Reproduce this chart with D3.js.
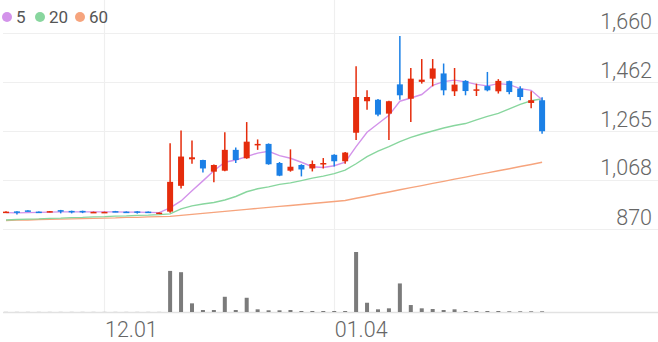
<!DOCTYPE html>
<html>
<head>
<meta charset="utf-8">
<script src="https://cdn.jsdelivr.net/npm/d3@7"></script>
<style>
  html, body { margin: 0; padding: 0; background: #fff; }
  #chart { width: 658px; height: 342px; }
  text { font-family: Roboto, 'Noto Sans', sans-serif; }
</style>
</head>
<body>
<div id="chart"></div>
<script>
//Datos del gráfico
const opens  = [936,941,945,940,940,946,943,943,937,936,942,940,941,940,934,940,1044,1151,1148,1101,1105,1189,1155,1208,1213,1136,1105,1128,1114,1131,1169,1143,1258,1385,1391,1335,1453,1395,1463,1476,1497,1425,1467,1428,1446,1425,1466,1436,1378,1389];
const highs  = [942,942,946,941,943,947,944,944,940,940,943,941,942,941,937,1216,1267,1227,1149,1130,1260,1198,1301,1231,1215,1140,1191,1131,1146,1156,1171,1180,1526,1429,1394,1387,1648,1519,1555,1555,1537,1519,1470,1456,1503,1474,1468,1445,1425,1401];
const lows   = [934,928,941,939,938,933,933,934,936,935,938,935,932,935,932,935,1033,1133,1098,1058,1103,1136,1153,1189,1129,1083,1101,1082,1102,1114,1122,1133,1229,1351,1324,1229,1391,1301,1456,1445,1409,1406,1409,1406,1425,1416,1413,1389,1357,1254];
const closes = [940,938,942,939,942,941,939,940,939,939,939,937,937,937,936,1060,1162,1159,1114,1128,1189,1148,1222,1213,1131,1085,1121,1110,1132,1136,1143,1178,1402,1402,1331,1385,1409,1476,1472,1517,1429,1452,1426,1433,1429,1467,1422,1402,1389,1264];
const volumes = [10,10,10,10,10,10,10,10,10,10,10,10,10,10,10,4130,4000,870,200,200,1530,200,1430,270,170,170,200,100,100,100,100,100,6030,930,270,370,2870,700,370,300,200,270,100,100,100,100,70,70,70,70];

const ma5  = [936,935,936,937,938,939,939,939,939,939,939,938,938,937,936,955,983,1024,1064,1105,1139,1148,1162,1176,1183,1166,1155,1139,1121,1118,1125,1139,1202,1260,1294,1328,1385,1398,1412,1449,1464,1470,1463,1453,1447,1456,1452,1436,1429,1391];
const ma20 = [906,908,910,911,913,914,916,917,919,920,922,923,925,926,928,931,951,963,971,977,987,1001,1020,1032,1040,1050,1056,1065,1075,1083,1093,1107,1133,1162,1184,1202,1222,1239,1253,1265,1277,1287,1295,1310,1324,1336,1354,1372,1387,1395];
const ma60 = [904,906,906,908,909,910,911,912,913,914,915,917,917,919,920,921,925,929,933,937,941,945,949,953,957,961,965,969,973,977,981,985,994,1002,1011,1019,1028,1037,1045,1054,1062,1071,1079,1088,1096,1105,1113,1122,1130,1139];

const yTicks = [870, 1068, 1265, 1462, 1660];
const xTickIdx = [9, 30];
const xTickLabels = ['12.01', '01.04'];
const legendLabels = ['5', '20', '60'];

//Colores fijos
const COLOR_UP = '#e52c0c',
COLOR_DOWN = '#1b80e6',
COLOR_MA = ['#d393ea', '#88d69e', '#f6a47d'],
COLOR_GRID = '#efefef',
COLOR_TEXT = '#666',
COLOR_VOL = '#7b7b7b';

const width = 658, height = 342;
const svg = d3.select('#chart').append('svg')
    .attr('width', width)
    .attr('height', height);

//Escalas
const nSlots = 60;
let x = d3.scaleLinear().domain([0, nSlots - 1]).range([6, 651.5]);
let y = d3.scaleLinear().domain([870, 1660]).range([229, 33]);
let yV = d3.scaleLinear().domain([0, d3.max(volumes)]).range([312, 252]);

//Rejilla
svg.append('g').selectAll('line')
    .data(yTicks)
    .enter()
    .append('line')
    .attr('x1', 3).attr('x2', width)
    .attr('y1', function(d) { return Math.round(y(d)) + 0.5; })
    .attr('y2', function(d) { return Math.round(y(d)) + 0.5; })
    .attr('stroke', COLOR_GRID)
    .attr('stroke-width', 1.2);

svg.append('g').selectAll('line')
    .data(xTickIdx)
    .enter()
    .append('line')
    .attr('x1', function(d) { return Math.round(x(d)) + 0.5; })
    .attr('x2', function(d) { return Math.round(x(d)) + 0.5; })
    .attr('y1', 0).attr('y2', 312)
    .attr('stroke', COLOR_GRID)
    .attr('stroke-width', 1.2);

//Etiquetas eje Y
svg.append('g').selectAll('text')
    .data(yTicks)
    .enter()
    .append('text')
    .attr('x', 652)
    .attr('y', function(d) { return y(d) - 4.5; })
    .attr('text-anchor', 'end')
    .attr('fill', COLOR_TEXT)
    .style('font-size', '21.5px')
    .style('font-weight', 300)
    .text(function(d) { return d3.format(',')(d); });

//Etiquetas eje X
svg.append('g').selectAll('text')
    .data(xTickIdx)
    .enter()
    .append('text')
    .attr('x', function(d) { return x(d) + 0.5; })
    .attr('y', 337)
    .attr('fill', COLOR_TEXT)
    .style('font-size', '21.5px')
    .style('font-weight', 300)
    .text(function(d, i) { return xTickLabels[i]; });

//Volumen
svg.append('line')
    .attr('x1', 3).attr('x2', width)
    .attr('y1', 312.5).attr('y2', 312.5)
    .attr('stroke', '#e2e2e2')
    .attr('stroke-width', 1.5);

svg.append('g').selectAll('rect')
    .data(volumes)
    .enter()
    .append('rect')
    .attr('x', function(d, i) { return x(i) - 2; })
    .attr('y', function(d) { return yV(d); })
    .attr('width', 4)
    .attr('height', function(d) { return yV(0) - yV(d); })
    .attr('fill', COLOR_VOL);

//Medias móviles
const line = d3.line()
    .x(function(d, i) { return x(i); })
    .y(function(d) { return y(d); });

[ma60, ma20, ma5].forEach(function(serie, k) {
    svg.append('path')
        .datum(serie)
        .attr('d', line)
        .attr('fill', 'none')
        .attr('stroke', COLOR_MA[2 - k])
        .attr('stroke-width', 1.4);
});

//Velas
const candles = svg.append('g').selectAll('g')
    .data(closes)
    .enter()
    .append('g');

candles.append('line')
    .attr('x1', function(d, i) { return x(i); })
    .attr('x2', function(d, i) { return x(i); })
    .attr('y1', function(d, i) { return y(highs[i]); })
    .attr('y2', function(d, i) { return y(lows[i]); })
    .attr('stroke', function(d, i) { return closes[i] >= opens[i] ? COLOR_UP : COLOR_DOWN; })
    .attr('stroke-width', 1.5);

candles.append('rect')
    .attr('x', function(d, i) { return x(i) - 3; })
    .attr('y', function(d, i) { return y(Math.max(opens[i], closes[i])); })
    .attr('width', 6)
    .attr('height', function(d, i) { return Math.max(1.5, Math.abs(y(opens[i]) - y(closes[i]))); })
    .attr('fill', function(d, i) { return closes[i] >= opens[i] ? COLOR_UP : COLOR_DOWN; });

//Leyenda
const legendX = [7, 40, 80];
const legend = svg.append('g').selectAll('g')
    .data(legendLabels)
    .enter()
    .append('g');

legend.append('circle')
    .attr('cx', function(d, i) { return legendX[i]; })
    .attr('cy', 17)
    .attr('r', 5)
    .attr('fill', function(d, i) { return COLOR_MA[i]; });

legend.append('text')
    .attr('x', function(d, i) { return legendX[i] + 9; })
    .attr('y', 23)
    .attr('fill', '#555')
    .style('font-size', '17px')
    .text(function(d) { return d; });
</script>
</body>
</html>
